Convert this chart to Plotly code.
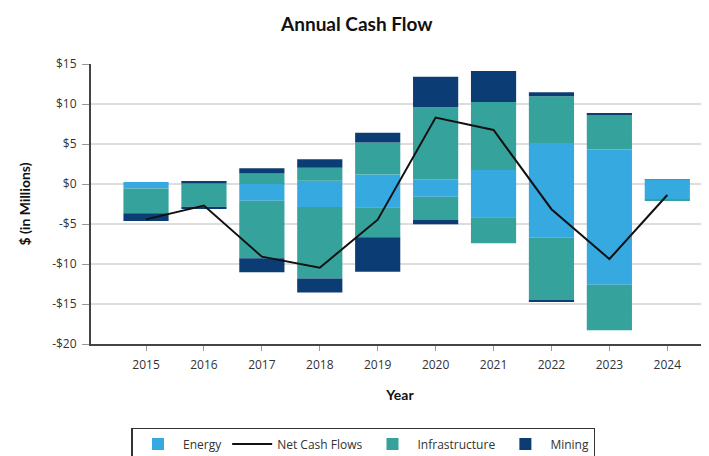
import plotly.graph_objects as go

years = ["2015", "2016", "2017", "2018", "2019", "2020", "2021", "2022", "2023", "2024"]

# inflow (positive) and outflow (negative) per sector, $ millions
energy_in = [0.2, 0.0, 0.0, 0.42, 1.2, 0.58, 1.75, 5.12, 4.3, 0.55]
energy_out = [-0.55, 0.0, -2.08, -2.88, -2.92, -1.58, -4.17, -6.71, -12.6, -1.95]
infra_in = [0.0, 0.08, 1.3, 1.62, 4.0, 9.0, 8.5, 5.84, 4.4, 0.05]
infra_out = [-3.12, -2.83, -7.2, -8.92, -3.75, -2.92, -3.25, -7.87, -5.67, -0.06]
mining_in = [0.0, 0.3, 0.67, 1.04, 1.21, 3.83, 3.88, 0.5, 0.13, 0.0]
mining_out = [-0.95, -0.29, -1.75, -1.75, -4.29, -0.54, 0.0, -0.09, 0.0, 0.0]
net_flows = [-4.42, -2.7, -9.08, -10.46, -4.46, 8.3, 6.75, -3.15, -9.38, -1.38]

ytick_vals = [15, 10, 5, 0, -5, -10, -15, -20]
ytick_text = ["$15", "$10", "$5", "$0", "-$5", "-$10", "-$15", "-$20"]

ENERGY = "#36A9E1"
INFRA = "#35A39B"
MINING = "#0C3C74"

fig = go.Figure()


def add_bars(name, color, pos, neg, rank):
    fig.add_trace(go.Bar(x=years, y=pos, name=name, marker_color=color,
                         marker_line_width=0, legendgroup=name, legendrank=rank))
    fig.add_trace(go.Bar(x=years, y=neg, name=name, marker_color=color,
                         marker_line_width=0, legendgroup=name, showlegend=False))


add_bars("Energy", ENERGY, energy_in, energy_out, 1)
add_bars("Infrastructure", INFRA, infra_in, infra_out, 3)
add_bars("Mining", MINING, mining_in, mining_out, 4)

fig.add_trace(go.Scatter(
    x=years, y=net_flows, name="Net Cash Flows", mode="lines",
    line=dict(color="#111111", width=2), legendrank=2,
))

# the page body keeps the browser's 8px margin, so the layout is shifted up/left by 8px
fig.update_layout(
    width=709,
    height=456,
    barmode="relative",
    bargap=0.22,
    plot_bgcolor="white",
    paper_bgcolor="white",
    font=dict(family="Open Sans, sans-serif", size=12, color="#333333"),
    title=dict(text="<b>Annual Cash Flow</b>", x=0.492, xanchor="center",
               y=0.965, yanchor="middle",
               font=dict(family="Lato, sans-serif", size=19, color="#111111")),
    margin=dict(l=83, r=8, t=56, b=120),
    xaxis=dict(
        type="category",
        range=[-0.95, 9.72],
        showline=True, linecolor="#444444", linewidth=2,
        ticks="outside", ticklen=5, tickcolor="#999999",
        ticklabelstandoff=4,
        showgrid=False,
        tickfont=dict(size=12, color="#333333"),
        title=dict(text="<b>Year</b>", standoff=18,
                   font=dict(family="Lato, sans-serif", size=14, color="#111111")),
    ),
    yaxis=dict(
        range=[-20, 15],
        tickvals=ytick_vals, ticktext=ytick_text,
        showline=True, linecolor="#444444", linewidth=2,
        ticks="outside", ticklen=7, tickcolor="#999999",
        ticklabelstandoff=3,
        showgrid=True, gridcolor="#dddddd", gridwidth=1.5,
        zeroline=False,
        tickfont=dict(size=12, color="#333333"),
        title=dict(text="<b>$ (in Millions)</b>", standoff=18,
                   font=dict(family="Lato, sans-serif", size=14, color="#111111")),
    ),
    legend=dict(
        orientation="h", xref="container", x=0.5014, xanchor="center",
        yref="container", y=0.079, yanchor="top",
        bordercolor="#333333", borderwidth=1.5,
        itemwidth=40,
        font=dict(size=12, color="#333333"),
        traceorder="normal",
    ),
)

fig.write_html("out.html")
